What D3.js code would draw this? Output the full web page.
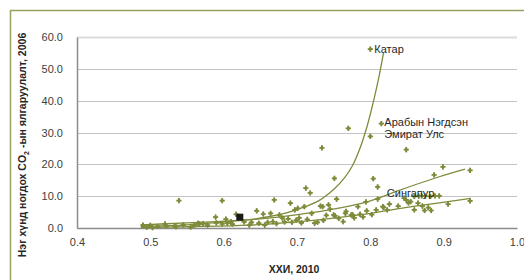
<!DOCTYPE html>
<html>
<head>
<meta charset="utf-8">
<script src="https://cdn.jsdelivr.net/npm/d3@7"></script>
<style>
  html, body { margin: 0; padding: 0; background: #fff; }
  svg { display: block; font-family: "Liberation Sans", Arial, sans-serif; }
</style>
</head>
<body>
<div id="chart"></div>
<script>
// ХХИ (HDI, 2010) and CO2 per capita (2006) for each country
const hdi = [
  0.490, 0.495, 0.500, 0.503, 0.510, 0.520, 0.522, 0.533, 0.535, 0.539, 0.545, 0.555,
  0.560, 0.565, 0.567, 0.572, 0.578, 0.589, 0.590, 0.598, 0.598, 0.603, 0.605, 0.610, 0.612, 0.617, 0.628,
  0.635, 0.638, 0.645, 0.648, 0.654, 0.656, 0.660, 0.664, 0.667, 0.669, 0.672, 0.676, 0.680, 0.683, 0.688,
  0.691, 0.693, 0.697, 0.699, 0.701, 0.703,
  0.706, 0.710, 0.712, 0.714, 0.718, 0.720, 0.724, 0.728, 0.732, 0.734, 0.735, 0.736, 0.740, 0.743, 0.745,
  0.750, 0.751, 0.752, 0.754, 0.757,
  0.763, 0.766, 0.767, 0.770, 0.774, 0.776, 0.778, 0.783, 0.786, 0.790, 0.794, 0.795, 0.800, 0.802, 0.804,
  0.808, 0.810, 0.810, 0.815, 0.800, 0.817, 0.818,
  0.823, 0.826, 0.838, 0.846, 0.849, 0.849, 0.852, 0.855, 0.860, 0.860, 0.865, 0.866, 0.870, 0.871, 0.875,
  0.874, 0.879, 0.882, 0.883, 0.887, 0.888, 0.894, 0.899, 0.906, 0.936, 0.936
];
const co2 = [
  0.9, 0.3, 0.8, 0.1, 0.5, 1.3, 0.6, 0.6, 0.4, 8.6, 1.0, 0.3,
  0.9, 1.5, 1.3, 1.4, 0.9, 3.4, 1.6, 1.3, 8.6, 2.8, 1.5, 2.0, 1.2, 4.3, 1.9,
  0.9, 1.8, 5.4, 1.5, 4.4, 0.9, 1.8, 4.6, 2.0, 8.8, 1.4, 4.1, 3.1, 1.9, 2.9,
  7.8, 1.8, 5.7, 2.5, 6.2, 3.2,
  1.6, 6.7, 12.5, 2.7, 11.0, 4.6, 1.5, 1.8, 6.9, 25.2, 6.7, 2.4, 4.0, 7.3, 5.9,
  4.1, 15.6, 3.8, 9.1, 3.0,
  2.0, 4.6, 5.2, 31.3, 4.1, 4.1, 3.2, 6.7, 4.3, 3.5, 8.2, 5.4, 28.8, 4.2, 15.5,
  5.7, 12.9, 9.1, 32.8, 56.2, 6.7, 6.5,
  5.7, 7.5, 6.9, 9.4, 24.6, 8.8, 7.9, 8.3, 9.9, 5.7, 7.8, 10.0, 10.1, 6.9, 10.0,
  5.5, 6.4, 9.9, 5.5, 16.7, 10.1, 10.1, 19.2, 7.5, 18.1, 8.5
];

// Mongolia, shown as a black square
const mnHdi = [0.622];
const mnCo2 = [3.4];

// trend lines
const trend1X = [0.487, 0.52, 0.55, 0.59, 0.635, 0.68, 0.712, 0.73, 0.751, 0.765, 0.775, 0.785, 0.795, 0.805, 0.812, 0.818];
const trend1Y = [0.5, 0.7, 1.0, 1.7, 2.6, 4.4, 6.8, 8.6, 12.3, 15.8, 19.3, 24.5, 31.5, 40.5, 47.8, 55.0];
const trend2X = [0.487, 0.55, 0.59, 0.635, 0.68, 0.744, 0.794, 0.839, 0.894, 0.929];
const trend2Y = [1.0, 1.6, 2.0, 2.6, 3.6, 5.7, 8.1, 11.8, 16.1, 18.5];
const trend3X = [0.487, 0.55, 0.635, 0.726, 0.785, 0.839, 0.894, 0.937];
const trend3Y = [0.1, 0.4, 0.9, 2.5, 4.1, 6.1, 7.9, 9.3];

const labelNames = ["Катар", "Арабын Нэгдсэн|Эмират Улс", "Сингапур"];
const labelHdi = [0.800, 0.815, 0.817];
const labelCo2 = [56.2, 32.8, 10.9];

const xTicks = [0.4, 0.5, 0.6, 0.7, 0.8, 0.9, 1.0];
const yTicks = [0, 10, 20, 30, 40, 50, 60];

const W = 524, H = 280;
const olive = "#7e8b3a";

const svg = d3.select("#chart").append("svg")
  .attr("width", W).attr("height", H);

// outer frame
svg.append("rect")
  .attr("x", 10.5).attr("y", 10.5)
  .attr("width", 700).attr("height", 500)
  .attr("fill", "none")
  .attr("stroke", "#98a064")
  .attr("stroke-width", 1.5);

const x = d3.scaleLinear().domain([0.4, 1.0]).range([77, 517]);
const y = d3.scaleLinear().domain([0, 60]).range([228, 37]);

// gridlines
svg.append("g")
  .selectAll("line")
  .data(yTicks.filter(d => d > 0))
  .join("line")
  .attr("x1", x(0.4)).attr("x2", x(1.0))
  .attr("y1", d => Math.round(y(d)) + 0.5)
  .attr("y2", d => Math.round(y(d)) + 0.5)
  .attr("stroke", d => d === 60 ? "#dcdcdc" : "#c4c4c4")
  .attr("stroke-width", d => d === 60 ? 2 : 1);

// axes
const yAxis = svg.append("g")
  .attr("transform", `translate(${x(0.4)},0)`)
  .call(d3.axisLeft(y).tickValues(yTicks).tickFormat(d3.format(".1f")).tickSize(0).tickPadding(14));
const xAxis = svg.append("g")
  .attr("transform", `translate(0,${y(0)})`)
  .call(d3.axisBottom(x).tickValues(xTicks).tickFormat(d3.format(".1f")).tickSize(0).tickPadding(10));

[yAxis, xAxis].forEach(g => {
  g.select(".domain").attr("stroke", "#8c8c8c").attr("stroke-width", 1.5);
  g.selectAll("text")
    .attr("font-family", "'Liberation Sans', Arial, sans-serif")
    .attr("font-size", 11)
    .attr("fill", "#404040");
});

// trend lines
const line = d3.line().curve(d3.curveCatmullRom).x(d => x(d[0])).y(d => y(d[1]));
[[trend1X, trend1Y], [trend2X, trend2Y], [trend3X, trend3Y]].forEach(([tx, ty]) => {
  svg.append("path")
    .datum(tx.map((v, i) => [v, ty[i]]))
    .attr("d", line)
    .attr("fill", "none")
    .attr("stroke", olive)
    .attr("stroke-width", 1.3);
});

// points
const cross = d3.symbol().type(d3.symbolCross).size(15);
const diamond = d3.symbol().type(d3.symbolDiamond).size(10);
const pts = svg.append("g")
  .selectAll("g")
  .data(hdi.map((v, i) => [v, co2[i]]))
  .join("g")
  .attr("transform", d => `translate(${x(d[0])},${y(d[1])})`)
  .attr("fill", olive);
pts.append("path").attr("d", cross);
pts.append("path").attr("d", diamond);

svg.append("g")
  .selectAll("rect")
  .data(mnHdi.map((v, i) => [v, mnCo2[i]]))
  .join("rect")
  .attr("x", d => x(d[0]) - 3.5)
  .attr("y", d => y(d[1]) - 3.5)
  .attr("width", 7).attr("height", 7)
  .attr("fill", "#1a1a1a");

// country labels
labelNames.forEach((name, i) => {
  const t = svg.append("text")
    .attr("x", x(labelHdi[i]) + 4)
    .attr("y", y(labelCo2[i]) + 4)
    .attr("font-size", 11)
    .attr("fill", "#262626");
  name.split("|").forEach((part, j) => {
    t.append("tspan")
      .attr("x", x(labelHdi[i]) + (i === 1 ? 3 : 4))
      .attr("dy", j === 0 ? (i === 1 ? -2 : 0) : 12)
      .text(part);
  });
});

// axis titles
svg.append("text")
  .attr("x", 294).attr("y", 273)
  .attr("text-anchor", "middle")
  .attr("font-size", 10.5)
  .attr("font-weight", "bold")
  .attr("fill", "#262626")
  .text("ХХИ, 2010");

const yt = svg.append("text")
  .attr("transform", "translate(26,145) rotate(-90)")
  .attr("text-anchor", "middle")
  .attr("font-size", 10.5)
  .attr("font-weight", "bold")
  .attr("fill", "#262626");
yt.append("tspan").text("Нэг хүнд ногдох CO");
yt.append("tspan").attr("font-size", 7).attr("dy", 3).text("2");
yt.append("tspan").attr("dy", -3).text(" -ын ялгаруулалт, 2006");
</script>
</body>
</html>
